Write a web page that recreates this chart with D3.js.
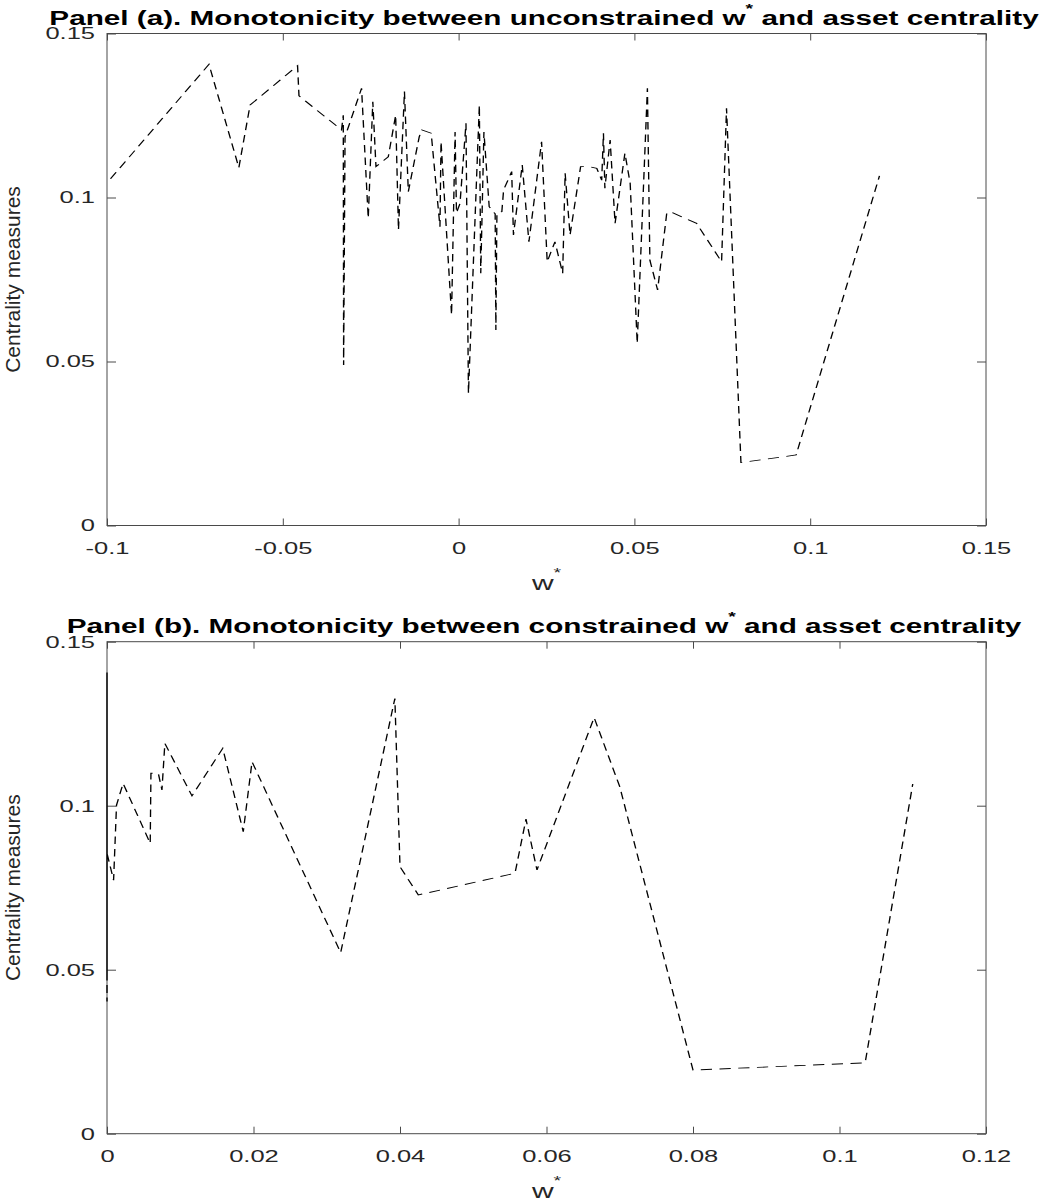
<!DOCTYPE html>
<html>
<head>
<meta charset="utf-8">
<script src="https://cdn.jsdelivr.net/npm/d3@7/dist/d3.min.js"></script>
<style>
    body { margin: 0; background: #fff; }
    svg { display: block; font-family: "Liberation Sans", Arial, Helvetica, sans-serif; }
</style>
</head>
<body>
<div id="chart"></div>
<script>
// Panel (a): unconstrained weights w* and centrality
const wA = [-0.0990, -0.0710, -0.0625, -0.0593, -0.0458, -0.0454, -0.0333, -0.0328, -0.0327, -0.0323,
    -0.0276, -0.0257, -0.0244, -0.0235, -0.0200, -0.0179, -0.0171, -0.0154, -0.0143, -0.0112,
    -0.0105, -0.0078, -0.0053, -0.0050, -0.0020, -0.0010, -0.0006, 0.0004, 0.0021, 0.0028,
    0.0059, 0.0063, 0.0072, 0.0087, 0.0104, 0.0106, 0.0109, 0.0123, 0.0128, 0.0151,
    0.0156, 0.0181, 0.0200, 0.0236, 0.0252, 0.0274, 0.0296, 0.0303, 0.0317, 0.0347,
    0.0372, 0.0393, 0.0407, 0.0412, 0.0416, 0.0431, 0.0445, 0.0473, 0.0488, 0.0508,
    0.0537, 0.0544, 0.0566, 0.0592, 0.0601, 0.0677, 0.0748, 0.0762, 0.0803, 0.0960,
    0.1197];
const cA = [0.1057, 0.1406, 0.1091, 0.1282, 0.1402, 0.1310, 0.1206, 0.1251, 0.0489, 0.1185,
    0.1333, 0.0937, 0.1292, 0.1094, 0.1124, 0.1251, 0.0901, 0.1323, 0.1018, 0.1185,
    0.1206, 0.1196, 0.0911, 0.1170, 0.0642, 0.1200, 0.0953, 0.0982, 0.1226, 0.0403,
    0.1282, 0.0769, 0.1200, 0.0972, 0.0950, 0.0596, 0.0952, 0.0957, 0.1023, 0.1079,
    0.0886, 0.1099, 0.0865, 0.1170, 0.0804, 0.0865, 0.0769, 0.1074, 0.0886, 0.1094,
    0.1094, 0.1089, 0.1053, 0.1196, 0.1028, 0.1175, 0.0921, 0.1135, 0.1043, 0.0555,
    0.1333, 0.0809, 0.0718, 0.0952, 0.0957, 0.0921, 0.0804, 0.1272, 0.0192, 0.0215,
    0.1066];

// Panel (b): constrained weights w* and centrality
const wB = [0, 0, 0, 0, 0, 0, 0,
    0.0009, 0.0013, 0.0022, 0.0059, 0.0060, 0.0070, 0.0075, 0.0079, 0.0116, 0.0158,
    0.0186, 0.0198, 0.0319, 0.0393, 0.0400, 0.0425, 0.0557, 0.0572, 0.0587, 0.0665,
    0.0700, 0.0800, 0.1035, 0.1100];
const cB = [0.1406, 0.0403, 0.1402, 0.0489, 0.1333, 0.0555, 0.0855,
    0.0773, 0.1002, 0.1068, 0.0885, 0.1099, 0.1099, 0.1048, 0.1190, 0.1030, 0.1175,
    0.0921, 0.1134, 0.0552, 0.1327, 0.0814, 0.0728, 0.0794, 0.0959, 0.0804, 0.1269,
    0.1058, 0.0194, 0.0216, 0.1066];

const yTicks = [0, 0.05, 0.1, 0.15];
const yTickLabels = ['0', '0.05', '0.1', '0.15'];
const xTicksA = [-0.1, -0.05, 0, 0.05, 0.1, 0.15];
const xTickLabelsA = ['-0.1', '-0.05', '0', '0.05', '0.1', '0.15'];
const xTicksB = [0, 0.02, 0.04, 0.06, 0.08, 0.1, 0.12];
const xTickLabelsB = ['0', '0.02', '0.04', '0.06', '0.08', '0.1', '0.12'];

const titleHeads = ['Panel (a). Monotonicity between unconstrained w', 'Panel (b). Monotonicity between constrained w'];
const titleTail = ' and asset centrality';
const yLabel = 'Centrality measures';

const width = 1045, height = 1201;
const left = 107, right = 986, plotH = 492;
const stretch = 1.5;   // the figure is widened, text and dashes with it
const axisColor = '#4a4a4a';
const textColor = '#262626';

const svg = d3.select('#chart').append('svg')
    .attr('width', width)
    .attr('height', height);

let titleScale = null;

function drawPanel(top, xDomain, xTicks, xLabels, ws, cs, titleHead) {
    const g = svg.append('g').attr('transform', `translate(0,${top})`);

    const x = d3.scaleLinear().domain(xDomain).range([left, right]);
    const y = d3.scaleLinear().domain([0, 0.15]).range([plotH, 0]);

    // Axes on all four sides, ticks inward
    const bottom = g.append('g')
        .attr('transform', `translate(0,${plotH})`)
        .call(d3.axisBottom(x).tickValues(xTicks).tickFormat((d, i) => xLabels[i])
            .tickSizeInner(-7).tickSizeOuter(0).tickPadding(16));

    const topAx = g.append('g')
        .call(d3.axisTop(x).tickValues(xTicks).tickFormat(() => '')
            .tickSizeInner(-7).tickSizeOuter(0));

    const leftAx = g.append('g')
        .attr('transform', `translate(${left},0)`)
        .call(d3.axisLeft(y).tickValues(yTicks).tickFormat((d, i) => yTickLabels[i])
            .tickSizeInner(-9).tickSizeOuter(0).tickPadding(8));

    const rightAx = g.append('g')
        .attr('transform', `translate(${right},0)`)
        .call(d3.axisRight(y).tickValues(yTicks).tickFormat(() => '')
            .tickSizeInner(-9).tickSizeOuter(0));

    [bottom, topAx, leftAx, rightAx].forEach(a => {
        a.select('.domain').remove();
        a.selectAll('line').attr('stroke', axisColor);
        a.selectAll('text')
            .attr('fill', textColor)
            .attr('font-size', '17px')
            .attr('font-family', '"Liberation Sans", Arial, sans-serif')
            .attr('transform', `scale(${stretch},1)`);
    });

    g.append('rect')
        .attr('x', left)
        .attr('y', 0)
        .attr('width', right - left)
        .attr('height', plotH)
        .attr('fill', 'none')
        .attr('stroke', axisColor)
        .attr('stroke-width', 1);

    // Dashed line, drawn in the unstretched space then widened
    const xs = d3.scaleLinear().domain(xDomain).range([left / stretch, right / stretch]);
    const line = d3.line()
        .x((d, i) => xs(ws[i]))
        .y((d, i) => y(cs[i]));

    g.append('path')
        .datum(ws)
        .attr('transform', `scale(${stretch},1)`)
        .attr('d', line)
        .attr('fill', 'none')
        .attr('stroke', '#000')
        .attr('stroke-width', 0.9)
        .attr('stroke-dasharray', '7.5,5');

    // Title
    const title = g.append('text')
        .attr('text-anchor', 'middle')
        .attr('font-weight', 'bold')
        .attr('font-size', '20px')
        .attr('fill', '#000');
    title.append('tspan').text(titleHead);
    title.append('tspan').attr('font-size', '13px').attr('dy', -12).text('*');
    title.append('tspan').attr('dy', 12).text(titleTail);

    if (titleScale === null) {
        titleScale = 990 / title.node().getComputedTextLength();
    }
    title.attr('transform', `translate(544,${-8.5}) scale(${titleScale},1)`);

    // x label
    const xl = g.append('text')
        .attr('text-anchor', 'middle')
        .attr('fill', textColor)
        .attr('transform', `translate(${(left + right) / 2},${plotH + 64.5}) scale(${stretch},1)`);
    xl.append('tspan').attr('font-size', '20px').text('w');
    xl.append('tspan').attr('font-size', '13px').attr('dy', -13).text('*');

    // y label
    g.append('text')
        .attr('text-anchor', 'middle')
        .attr('fill', textColor)
        .attr('font-size', '21px')
        .attr('transform', `translate(20,${plotH / 2}) rotate(-90)`)
        .text(yLabel);
}

drawPanel(33.5, [-0.1, 0.15], xTicksA, xTickLabelsA, wA, cA, titleHeads[0]);
drawPanel(641.7, [0, 0.12], xTicksB, xTickLabelsB, wB, cB, titleHeads[1]);
</script>
</body>
</html>
